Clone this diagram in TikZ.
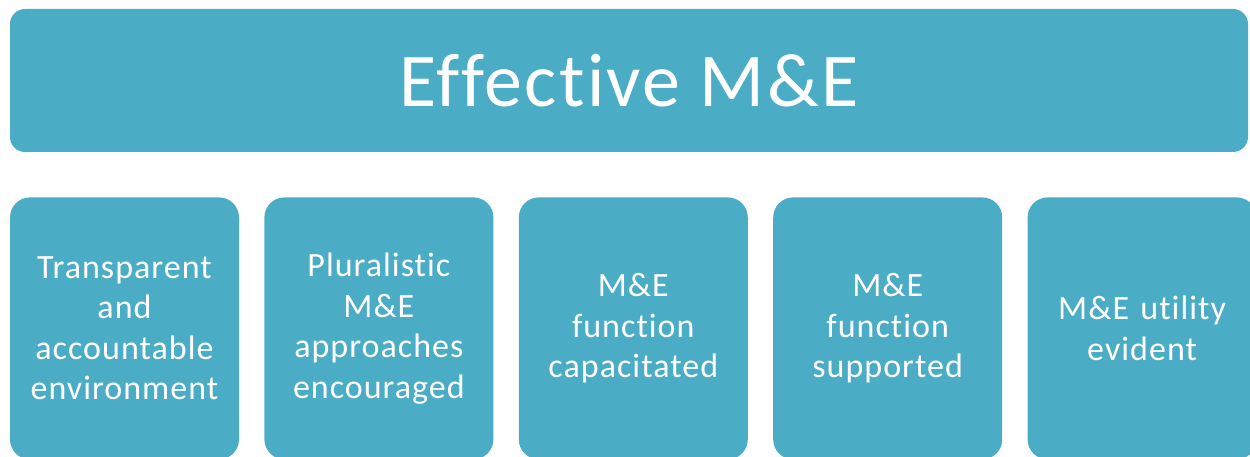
\documentclass[tikz,border=0pt]{standalone}
\usepackage{fontspec}
\setmainfont[Ligatures=NoCommon,LetterSpace=3]{Carlito}
\usepackage{tikz}
\usetikzlibrary{positioning}
\definecolor{aqua}{HTML}{4BACC6}

\begin{document}
\begin{tikzpicture}[
  x=1pt,y=1pt,
  node distance=45pt and 25pt,
  head/.style={fill=aqua,rounded corners=15pt,align=center,minimum height=143pt,minimum width=1238pt,text=white,font=\fontsize{76}{90}\selectfont,inner sep=0pt},
  pillar/.style={fill=aqua,rounded corners=20pt,align=center,minimum height=262pt,minimum width=229pt,text width=225pt,text=white,font=\fontsize{34}{40.5}\selectfont,inner sep=0pt}
]
\useasboundingbox (0,0) rectangle (1250,456);
\node[head] (title) at (629,375.5) {Effective M\&E};
\node[pillar,below=45pt of title.south west,anchor=north west] (transp) {Transparent\\and\\accountable\\environment};
\node[pillar,right=of transp] (plural) {Pluralistic\\M\&E\\approaches\\encouraged};
\node[pillar,right=of plural] (capac) {M\&E\\function\\capacitated};
\node[pillar,right=of capac] (support) {M\&E\\function\\supported};
\node[pillar,right=of support] (utility) {M\&E utility\\evident};
\end{tikzpicture}
\end{document}
